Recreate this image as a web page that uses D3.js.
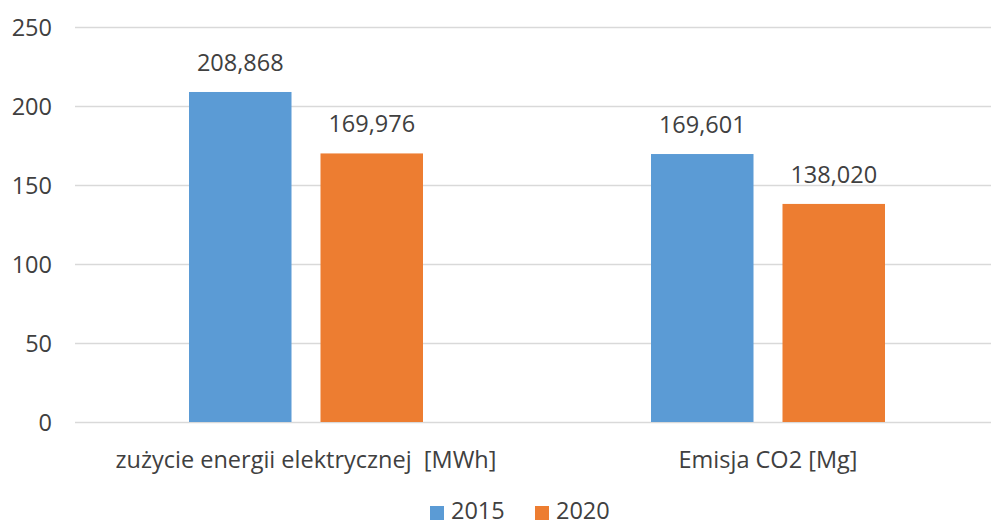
<!DOCTYPE html>
<html><head><meta charset="utf-8">
<script src="https://cdn.jsdelivr.net/npm/d3@7"></script>
<style>body{margin:0;background:#fff}svg{display:block}text{font-family:"Open Sans","Noto Sans",sans-serif;fill:#404040}</style>
</head><body>
<svg id="c" width="991" height="525"></svg>
<script>
const categories = ["zużycie energii elektrycznej  [MWh]", "Emisja CO2 [Mg]"];
const seriesNames = ["2015", "2020"];
const values2015 = [208.868, 169.601];
const values2020 = [169.976, 138.020];
const labels2015 = ["208,868", "169,601"];
const labels2020 = ["169,976", "138,020"];
const yTicks = [0, 50, 100, 150, 200, 250];
const colors = ["#5B9BD5", "#ED7D31"];

const svg = d3.select("#c");
const fs = 23.5;
const x = d3.scaleBand().domain(categories).range([75, 999]).paddingInner(0).paddingOuter(0);
const y = d3.scaleLinear().domain([0, 250]).range([422, 27]);
const groupW = 234;
const xs = d3.scaleBand().domain(seriesNames).range([0, groupW]).paddingInner(0.2205).paddingOuter(0);

// gridlines
svg.append("g").selectAll("line").data(yTicks).join("line")
  .attr("x1", 75).attr("x2", 991)
  .attr("y1", d => Math.round(y(d)) + 0.5).attr("y2", d => Math.round(y(d)) + 0.5)
  .attr("stroke", "#D9D9D9").attr("stroke-width", 1.3);

// y tick labels
svg.append("g").selectAll("text").data(yTicks).join("text")
  .attr("x", 52).attr("y", d => y(d) + 8.5).attr("text-anchor", "end")
  .attr("font-size", fs).text(d => d);

const data = [];
categories.forEach((c, i) => {
  data.push({c, s: "2015", v: values2015[i], l: labels2015[i], col: colors[0]});
  data.push({c, s: "2020", v: values2020[i], l: labels2020[i], col: colors[1]});
});
const bx = d => x(d.c) + (x.bandwidth() - groupW) / 2 + xs(d.s);

svg.append("g").selectAll("rect").data(data).join("rect")
  .attr("x", bx).attr("width", xs.bandwidth())
  .attr("y", d => y(d.v)).attr("height", d => y(0) - y(d.v))
  .attr("fill", d => d.col);

svg.append("g").selectAll("text").data(data).join("text")
  .attr("x", d => bx(d) + xs.bandwidth() / 2).attr("y", d => y(d.v) - 21)
  .attr("text-anchor", "middle").attr("font-size", fs).text(d => d.l);

// category labels
svg.append("g").selectAll("text").data(categories).join("text")
  .attr("x", d => x(d) + x.bandwidth() / 2).attr("y", 468)
  .attr("text-anchor", "middle").attr("font-size", fs)
  .style("white-space", "pre").attr("xml:space", "preserve").text(d => d);

// legend
const leg = svg.append("g");
const legX = [430, 535];
seriesNames.forEach((s, i) => {
  leg.append("rect").attr("x", legX[i]).attr("y", 506).attr("width", 14).attr("height", 14).attr("fill", colors[i]);
  leg.append("text").attr("x", legX[i] + 21).attr("y", 519).attr("font-size", fs).text(s);
});
</script>
</body></html>
